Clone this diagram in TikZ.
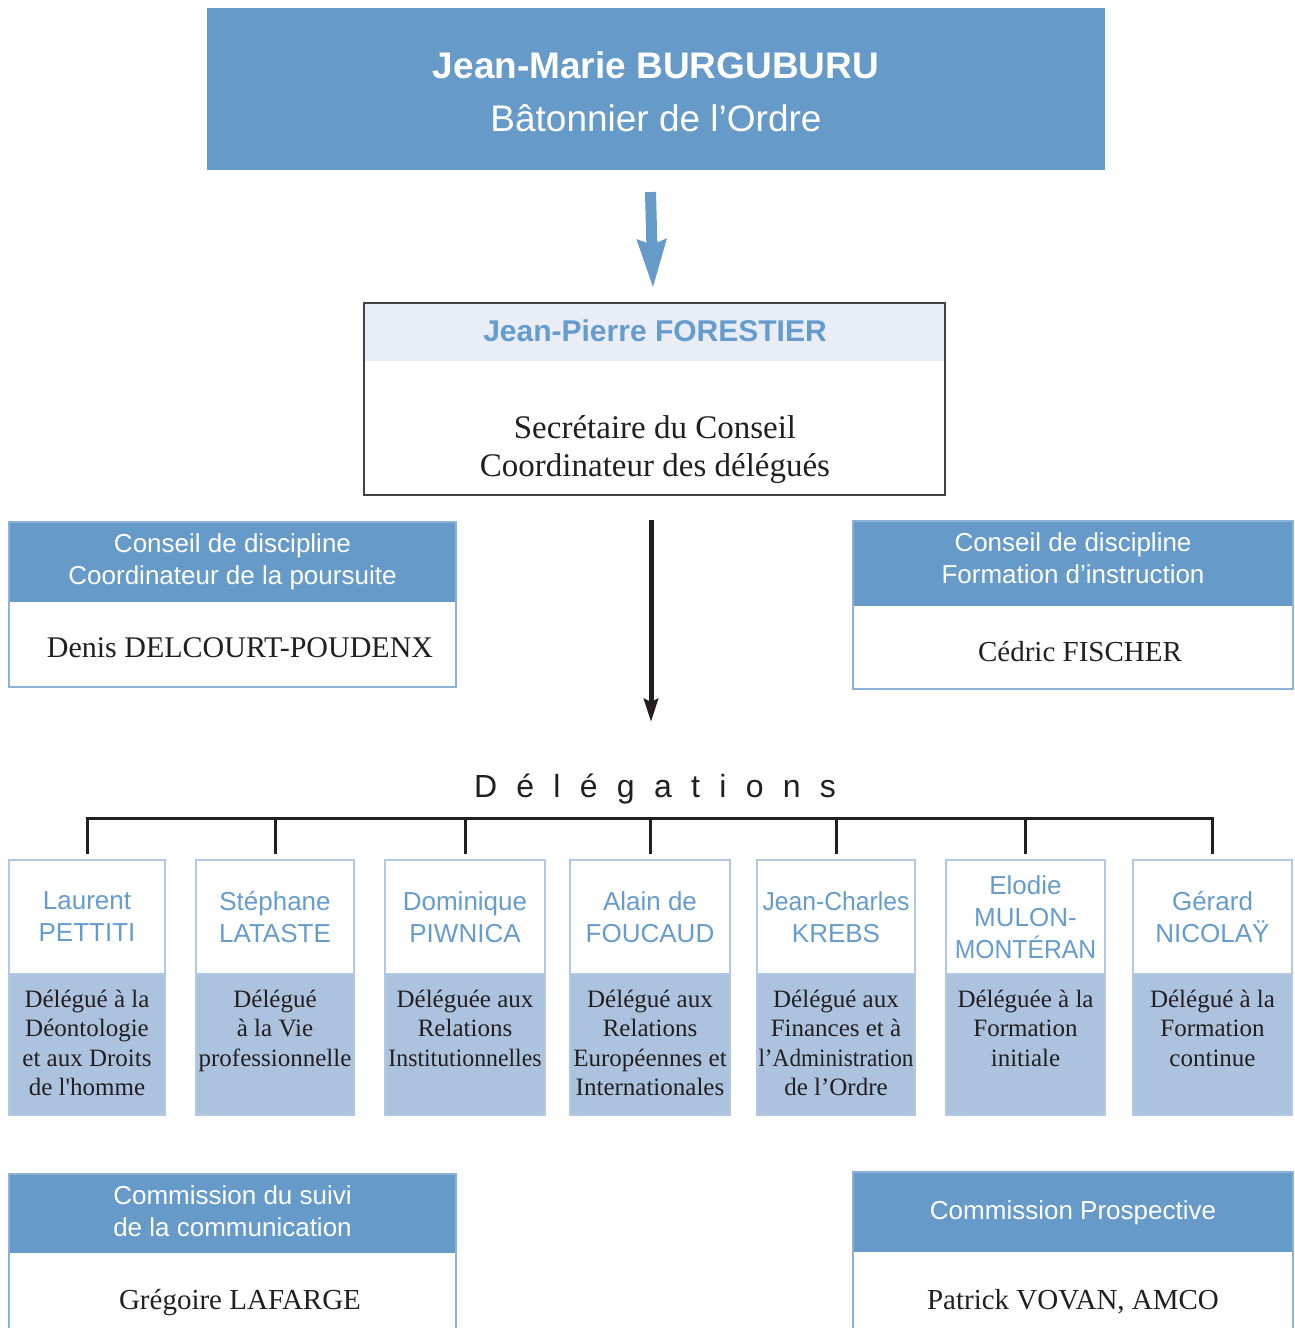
\documentclass[tikz,border=0pt]{standalone}
\usepackage{fontspec}
\setmainfont{Liberation Serif}
\newfontfamily\sansf{Liberation Sans}
\newfontfamily\nomap[Ligatures=TeXOff]{Liberation Serif}
\usetikzlibrary{arrows.meta}
\definecolor{hdrblue}{RGB}{102,154,201}
\definecolor{lightbody}{RGB}{172,195,223}
\definecolor{paleblue}{RGB}{232,237,246}
\definecolor{txtblue}{RGB}{102,156,205}
\definecolor{bordblue}{RGB}{140,178,215}
\definecolor{dbord}{RGB}{178,201,228}
\definecolor{darkc}{RGB}{35,31,32}
\newcommand{\fs}[2]{\fontsize{#1}{#2}\selectfont}
\newcommand{\lsp}{\hspace{19.3pt}}
\begin{document}
\begin{tikzpicture}[x=1pt,y=-1pt,
  box/.style={inner sep=0pt,outer sep=0pt,anchor=north west},
  hdr/.style={box,fill=hdrblue},
  txt/.style={inner sep=0pt,outer sep=0pt,align=center},
  hdrtxt/.style={txt,text=white,font=\sansf\fs{26}{32}},
  nametxt/.style={txt,text=darkc,font=\fs{29}{34}},
  border/.style={draw=bordblue,line width=1.2pt},
  conn/.style={draw=darkc,line width=3pt},
  dhead/.style={box,fill=white,draw=dbord,line width=1.2pt,minimum height=114pt,
    text=txtblue,font=\sansf\fs{26}{32},align=center},
  dbody/.style={box,fill=lightbody,draw=dbord,line width=1.2pt,minimum height=141pt},
  dtxt/.style={txt,anchor=north,text=darkc,font=\fs{25}{29.5}}]
\clip (0,0) rectangle (1294,1328);
\fill[white] (0,0) rectangle (1294,1328);

% top box
\node[hdr,minimum width=898pt,minimum height=162pt] (top) at (207,8) {};
\node[txt,text=white,font=\sansf\fs{37}{53}] (toptxt) at (656,92)
  {{\bfseries Jean-Marie BURGUBURU}\\Bâtonnier de l’Ordre};

% Forestier
\node[box,fill=paleblue,minimum width=581pt,minimum height=58pt] (fh) at (364,303) {};
\node[box,fill=white,minimum width=581pt,minimum height=134pt] (fb) at (364,361) {};
\draw[darkc!85,line width=1.5pt] (fh.north west) rectangle (fb.south east);
\node[txt,text=txtblue,font=\sansf\bfseries\fs{30}{36}] (fname) at (655,331) {Jean-Pierre FORESTIER};
\node[txt,text=darkc,font=\fs{33}{38}] (frole) at (655,450) {Secrétaire du Conseil\\Coordinateur des délégués};

% arrows
\draw[hdrblue,line width=11pt,-{Stealth[length=48pt,width=27pt,inset=4pt]}]
  ([xshift=-5.5pt,yshift=-22pt]top.south) -- ([xshift=-1.5pt,yshift=14pt]fh.north);
\draw[darkc,line width=5pt,-{Stealth[length=23pt,width=14pt,inset=3pt]}]
  ([xshift=-3.5pt,yshift=-25pt]fb.south) -- ++(0,202);

% Conseil de discipline left
\node[hdr,minimum width=447pt,minimum height=80pt] (c1h) at (9,522) {};
\node[box,fill=white,minimum width=447pt,minimum height=85pt] (c1b) at (9,602) {};
\draw[border] (c1h.north west) rectangle (c1b.south east);
\node[hdrtxt] (c1t) at (232.5,562) {Conseil de discipline\\Coordinateur de la poursuite};
\node[nametxt,font=\fs{30}{34}] (c1n) at (240,648) {Denis DELCOURT-POUDENX};

% Conseil de discipline right
\node[hdr,minimum width=440pt,minimum height=85pt] (c2h) at (853,521) {};
\node[box,fill=white,minimum width=440pt,minimum height=83pt] (c2b) at (853,606) {};
\draw[border] (c2h.north west) rectangle (c2b.south east);
\node[hdrtxt] (c2t) at (1073,558) {Conseil de discipline\\Formation d’instruction};
\node[nametxt] (c2n) at (1080,652) {Cédric FISCHER};

% Délégations
\node[txt,text=darkc,font=\sansf\fs{32}{38}] (deleg) at (655,789)
  {D\lsp é\lsp l\lsp é\lsp g\lsp a\lsp t\lsp i\lsp o\lsp n\lsp s};

% delegate boxes
\node[dhead,minimum width=156pt] (d1) at (9,860) {Laurent\\PETTITI};
\node[dbody,minimum width=156pt] (e1) at (9,974) {};
\node[dhead,minimum width=158pt] (d2) at (196,860) {Stéphane\\LATASTE};
\node[dbody,minimum width=158pt] (e2) at (196,974) {};
\node[dhead,minimum width=160pt] (d3) at (385,860) {Dominique\\PIWNICA};
\node[dbody,minimum width=160pt] (e3) at (385,974) {};
\node[dhead,minimum width=160pt] (d4) at (570,860) {Alain de\\FOUCAUD};
\node[dbody,minimum width=160pt] (e4) at (570,974) {};
\node[dhead,minimum width=158pt] (d5) at (757,860) {\scalebox{0.95}[1]{Jean-Charles}\\KREBS};
\node[dbody,minimum width=158pt] (e5) at (757,974) {};
\node[dhead,minimum width=159pt] (d6) at (946,860) {Elodie\\MULON-\\\scalebox{0.95}[1]{MONTÉRAN}};
\node[dbody,minimum width=159pt] (e6) at (946,974) {};
\node[dhead,minimum width=159pt] (d7) at (1133,860) {Gérard\\NICOLAŸ};
\node[dbody,minimum width=159pt] (e7) at (1133,974) {};

\node[dtxt] (t1) at (87,990) {Délégué à la\\Déontologie\\et aux Droits\\de l{\nomap '}homme};
\node[dtxt] (t2) at (275,990) {Délégué\\à la Vie\\professionnelle};
\node[dtxt] (t3) at (465,990) {Déléguée aux\\Relations\\\scalebox{0.95}[1]{Institutionnelles}};
\node[dtxt] (t4) at (650,990) {Délégué aux\\Relations\\Européennes et\\Internationales};
\node[dtxt] (t5) at (836,990) {Délégué aux\\Finances et à\\\scalebox{0.93}[1]{l’Administration}\\de l’Ordre};
\node[dtxt] (t6) at (1025.5,990) {Déléguée à la\\Formation\\initiale};
\node[dtxt] (t7) at (1212.5,990) {Délégué à la\\Formation\\continue};

% bracket
\draw[conn] ([yshift=6pt]d1.north) -- ++(0,-36) -| ([yshift=6pt]d7.north);
\foreach \k in {2,...,6} {\draw[conn] ([yshift=6pt]d\k.north) -- ++(0,-36);}

% bottom boxes
\node[hdr,minimum width=447pt,minimum height=79pt] (b1h) at (9,1174) {};
\node[box,fill=white,minimum width=447pt,minimum height=95pt] (b1b) at (9,1253) {};
\draw[border] (b1h.north west) rectangle (b1b.south east);
\node[hdrtxt] (b1t) at (232.5,1211) {Commission du suivi\\de la communication};
\node[nametxt] (b1n) at (240,1303) {Grégoire LAFARGE};

\node[hdr,minimum width=440pt,minimum height=80pt] (b2h) at (853,1172) {};
\node[box,fill=white,minimum width=440pt,minimum height=95pt] (b2b) at (853,1252) {};
\draw[border] (b2h.north west) rectangle (b2b.south east);
\node[hdrtxt] (b2t) at (1073,1213) {Commission Prospective};
\node[nametxt] (b2n) at (1073,1302) {Patrick VOVAN, AMCO};
\end{tikzpicture}
\end{document}
